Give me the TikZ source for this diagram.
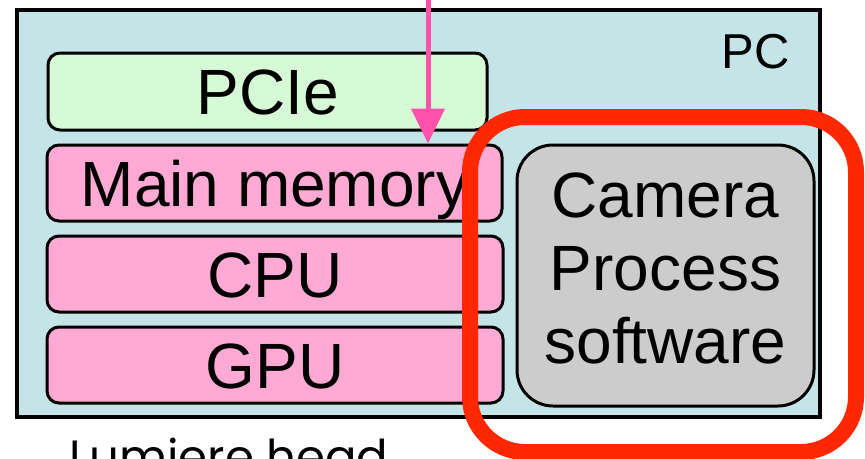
\documentclass[tikz,border=0pt]{standalone}
\usepackage{fontspec}
\usepackage{graphicx}
\setmainfont{Liberation Sans}
\newfontfamily\headfont{Poppins}
\usetikzlibrary{arrows.meta}

\definecolor{pcblue}{RGB}{197,228,232}
\definecolor{busgreen}{RGB}{213,250,213}
\definecolor{unitpink}{RGB}{255,170,212}
\definecolor{swgray}{RGB}{204,204,204}
\definecolor{hired}{RGB}{255,40,0}
\definecolor{dmapink}{RGB}{255,82,170}

\begin{document}
\begin{tikzpicture}[x=1pt,y=-1pt,
  bigfont/.style={font=\fontsize{64}{73}\selectfont},
  pcbox/.style={draw=black, fill=pcblue, line width=3.5pt, inner sep=0pt},
  unit/.style={draw=black, line width=3pt, rounded corners=12pt, inner sep=0pt,
    bigfont, text height=46pt, text depth=0pt},
  busbox/.style={unit, fill=busgreen},
  hwbox/.style={unit, fill=unitpink},
  swbox/.style={draw=black, fill=swgray, line width=3pt, rounded corners=36pt, inner sep=0pt},
  hilite/.style={draw=hired, line width=16pt, rounded corners=55pt, inner sep=0pt},
  dma/.style={draw=dmapink, line width=5pt, -{Triangle[width=33pt,length=35pt]}}
]
\useasboundingbox (0,0) rectangle (865,458);

% host machine
\node[pcbox, minimum width=803pt, minimum height=407pt] (pc) at (418.5,213.5) {};
\node[font=\fontsize{49}{56}\selectfont, inner sep=0pt, anchor=base east] (pclabel) at (790,68) {PC};

% hardware stack
\node[busbox, minimum width=439pt, minimum height=77pt] (pcie) at (267.5,91.5) {PCIe};
\node[hwbox, minimum width=455pt, minimum height=76pt] (mem) at (274.5,183) {Main memory};
\node[hwbox, minimum width=456pt, minimum height=76pt] (cpu) at (275,274) {CPU};
\node[hwbox, minimum width=456pt, minimum height=76pt] (gpu) at (275,365) {GPU};

% software running on the host
\node[swbox, minimum width=297pt, minimum height=261pt] (cam) at (665.5,275.5) {};
\node[bigfont, align=center, inner sep=0pt] (camtext) at ([yshift=7pt]cam.center) {Camera\\Process\\software};

% incoming transfer into main memory
\coordinate (dmatop) at (428,-10);
\draw[dma] (dmatop) -- (dmatop |- mem.north);

% highlight around the software block
\node[hilite, minimum width=386pt, minimum height=335pt] (focus) at (663,284.5) {};

% caption of the neighbouring block
\node[inner sep=0pt, anchor=north west] (headlabel) at (69,438)
  {\resizebox{319pt}{!}{\headfont\fontsize{44}{50}\selectfont Lumiere head}};
\end{tikzpicture}
\end{document}
